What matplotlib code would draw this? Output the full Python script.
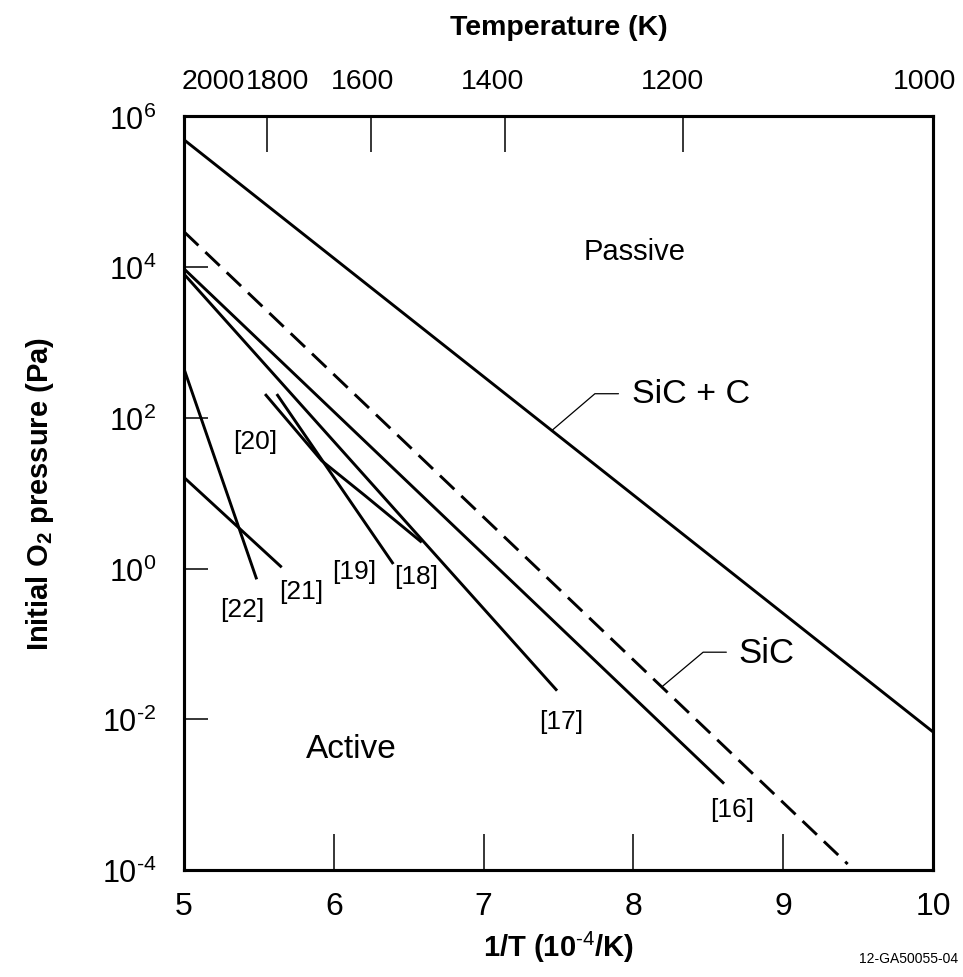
import numpy as np
import matplotlib
matplotlib.use('Agg')
import matplotlib.pyplot as plt
import matplotlib.transforms as mtransforms
from matplotlib.ticker import NullLocator, FixedFormatter

plt.rcParams['font.family'] = ['Liberation Sans', 'DejaVu Sans']
plt.rcParams['mathtext.fontset'] = 'custom'
plt.rcParams['mathtext.rm'] = 'Liberation Sans'
plt.rcParams['mathtext.bf'] = 'Liberation Sans:bold'

# 1/T in 1e-4/K, initial O2 pressure in Pa
sic_c_x = [5.0, 10.0]
sic_c_p = [4.9e5, 6.8e-3]
sic_x = [5.0, 9.43]
sic_p = [2.95e4, 1.2e-4]
ref16_x = [5.0, 8.605]
ref16_p = [9.5e3, 1.4e-3]
ref17_x = [5.0, 7.49]
ref17_p = [8.1e3, 2.4e-2]
ref18_x = [5.541, 5.919, 6.208, 6.587]
ref18_p = [207.0, 27.0, 9.3, 2.23]
ref19_x = [5.619, 6.397]
ref19_p = [207.0, 1.15]
ref21_x = [5.0, 5.652]
ref21_p = [16.2, 1.04]
ref22_x = [5.0, 5.485]
ref22_p = [447.0, 0.72]

temps = [2000, 1800, 1600, 1400, 1200, 1000]
y_ticks = [1e-4, 1e-2, 1, 1e2, 1e4, 1e6]
y_tick_labels = ['-4', '-2', '0', '2', '4', '6']
ref_labels = ['[16]', '[17]', '[18]', '[19]', '[20]', '[21]', '[22]']
ref_label_x = [8.656, 7.521, 6.547, 6.135, 5.474, 5.781, 5.39]
ref_label_p = [6.5e-4, 9.5e-3, 0.8, 0.94, 50.0, 0.51, 0.29]

fig = plt.figure(figsize=(9.63, 9.78), dpi=100)
ax = fig.add_axes([0.1911, 0.1094, 0.7778, 0.7705])

lw = 2.1
ax.plot(sic_c_x, sic_c_p, color='black', lw=lw)
ax.plot(sic_x, sic_p, color='black', lw=lw, linestyle=(0, (6.8, 3.3)))
for xs, ps in [(ref16_x, ref16_p), (ref17_x, ref17_p), (ref18_x, ref18_p),
               (ref19_x, ref19_p), (ref21_x, ref21_p), (ref22_x, ref22_p)]:
    ax.plot(xs, ps, color='black', lw=lw, solid_capstyle='butt')

ax.set_yscale('log')
ax.set_xlim(5, 10)
ax.set_ylim(1e-4, 1e6)
ax.set_xticks([5, 6, 7, 8, 9, 10])
ax.set_yticks(y_ticks)
ax.yaxis.set_major_formatter(FixedFormatter(
    [r'$\mathregular{10^{\text{%s}}}$' % e for e in y_tick_labels]))
ax.yaxis.set_minor_locator(NullLocator())

for sp in ax.spines.values():
    sp.set_linewidth(2.2)

ax.tick_params(axis='x', direction='in', length=26, width=1.1, pad=15,
               labelsize=23)
ax.tick_params(axis='y', direction='in', length=17, width=1.1, pad=20,
               labelsize=22)

# top temperature axis
ax2 = ax.twiny()
ax2.set_xlim(ax.get_xlim())
ax2.set_xticks([1e4 / t for t in temps])
ax2.set_xticklabels([str(t) for t in temps])
ax2.tick_params(axis='x', direction='in', length=26, width=1.1, pad=16,
                labelsize=20.5)
for sp in ax2.spines.values():
    sp.set_linewidth(2.2)
# nudge the labels the way the original sits them
shifts = [29, 10, -9, -12, -11, -8]
for lbl, dx in zip(ax2.get_xticklabels(), shifts):
    lbl.set_transform(lbl.get_transform() +
                      mtransforms.ScaledTranslation(dx / 100, 0, fig.dpi_scale_trans))

ax2.set_xlabel('Temperature (K)', fontsize=20.5, fontweight='bold', labelpad=25)
ax.set_xlabel(r'1/T (10$^{\mathbf{\text{-4}}}$/K)', fontsize=21, fontweight='bold',
              labelpad=6)
ax.set_ylabel(r'Initial O$_{\mathbf{2}}$ pressure (Pa)', fontsize=21,
              fontweight='bold', labelpad=33)

# region labels
ax.text(8.01, 10 ** 4.215, 'Passive', fontsize=21, ha='center', va='center')
ax.text(6.12, 10 ** -2.39, 'Active', fontsize=24, ha='center', va='center')

# curve labels with leaders
x_a = 7.455
p_a = 10 ** np.interp(x_a, sic_c_x, np.log10(sic_c_p))
ax.annotate('', xy=(x_a, p_a), xytext=(48, 26.5), textcoords='offset points',
            arrowprops=dict(arrowstyle='-', lw=0.9, color='black',
                            shrinkA=0, shrinkB=0,
                            connectionstyle='angle,angleA=180,angleB=40.5,rad=0'))
ax.annotate('SiC + C', xy=(x_a, p_a), xytext=(58, 26.5), textcoords='offset points',
            fontsize=24.5, ha='left', va='center')

x_b = 8.189
p_b = 10 ** np.interp(x_b, sic_x, np.log10(sic_p))
ax.annotate('', xy=(x_b, p_b), xytext=(46.5, 25), textcoords='offset points',
            arrowprops=dict(arrowstyle='-', lw=0.9, color='black',
                            shrinkA=0, shrinkB=0,
                            connectionstyle='angle,angleA=180,angleB=40,rad=0'))
ax.annotate('SiC', xy=(x_b, p_b), xytext=(55, 25), textcoords='offset points',
            fontsize=25, ha='left', va='center')

for lbl, lx, lp in zip(ref_labels, ref_label_x, ref_label_p):
    ax.text(lx, lp, lbl, fontsize=19, ha='center', va='center')

fig.text(0.995, 0.012, '12-GA50055-04', ha='right', va='bottom', fontsize=10)

fig.savefig('out.png', dpi=100)
